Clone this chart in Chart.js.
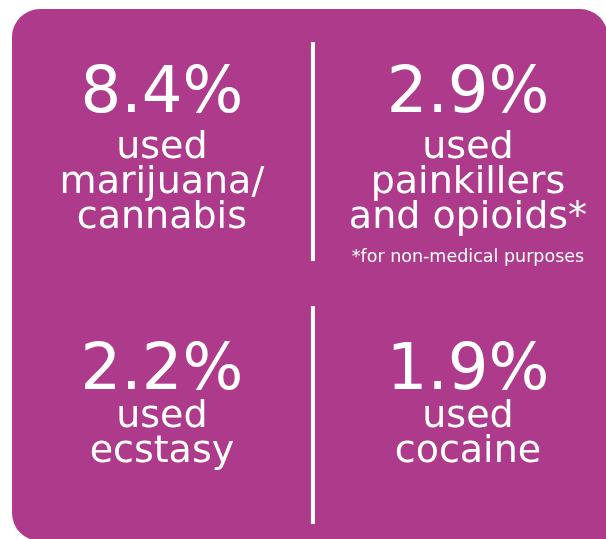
<!DOCTYPE html>
<html>
<head>
<meta charset="utf-8">
<script src="https://cdn.jsdelivr.net/npm/chart.js"></script>
<style>
  html, body { margin: 0; padding: 0; background: #ffffff; }
  #wrap { width: 606px; height: 539px; position: relative; }
</style>
</head>
<body>
<div id="wrap"><canvas id="statChart"></canvas></div>
<script>
// values shown in the four cells (percent)
const values = [8.4, 2.9, 2.2, 1.9];
const labelLines = [
  ['used', 'marijuana/', 'cannabis'],
  ['used', 'painkillers', 'and opioids*'],
  ['used', 'ecstasy'],
  ['used', 'cocaine']
];
const footnotes = ['', '*for non-medical purposes', '', ''];
// grid cell of each value
const columns = [0, 1, 0, 1];
const rows = [0, 0, 1, 1];

const panelColor = '#ad3a8b';
const fontFamily = '"DejaVu Sans", sans-serif';

const points = values.map((v, i) => ({ x: columns[i], y: rows[i], v: v }));

const panelPlugin = {
  id: 'panel',
  beforeDraw(chart) {
    const ctx = chart.ctx;
    ctx.save();
    ctx.fillStyle = panelColor;
    ctx.beginPath();
    ctx.roundRect(12, 9, 596, 532, [28, 28, 0, 28]);
    ctx.fill();

    // dividers between the columns
    const xMid = chart.scales.x.getPixelForValue(0.5) - 2;
    ctx.fillStyle = '#ffffff';
    ctx.fillRect(xMid - 2, 42, 4, 219);
    ctx.fillRect(xMid - 2, 306, 4, 218);
    ctx.restore();
  }
};

const cellTextPlugin = {
  id: 'cellText',
  afterDatasetsDraw(chart) {
    const ctx = chart.ctx;
    const meta = chart.getDatasetMeta(0);
    ctx.save();
    ctx.fillStyle = '#ffffff';
    ctx.textAlign = 'center';
    ctx.textBaseline = 'alphabetic';
    meta.data.forEach((pt, i) => {
      const x = pt.x;
      const y = pt.y;
      ctx.font = '64px ' + fontFamily;
      ctx.fillText(values[i].toFixed(1) + '%', x, y);

      ctx.font = '38px ' + fontFamily;
      let lineY = y + (rows[i] === 0 ? 46 : 38);
      labelLines[i].forEach(line => {
        ctx.fillText(line, x, lineY);
        lineY += 35;
      });
      if (footnotes[i]) {
        ctx.font = '17.5px ' + fontFamily;
        ctx.fillText(footnotes[i], x, lineY - 1);
      }
    });
    ctx.restore();
  }
};

new Chart(document.getElementById('statChart'), {
  type: 'scatter',
  data: {
    datasets: [{
      data: points,
      pointRadius: 0,
      pointHoverRadius: 0
    }]
  },
  options: {
    responsive: true,
    maintainAspectRatio: false,
    animation: false,
    layout: { padding: 0 },
    scales: {
      x: { type: 'linear', display: false, min: -0.529, max: 1.451 },
      y: { type: 'linear', display: false, reverse: true, min: -0.404, max: 1.542 }
    },
    plugins: {
      legend: { display: false },
      tooltip: { enabled: false }
    }
  },
  plugins: [panelPlugin, cellTextPlugin]
});
</script>
</body>
</html>
